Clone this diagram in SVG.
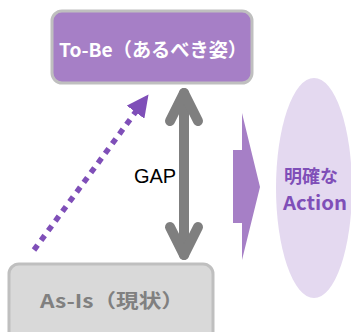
<svg xmlns="http://www.w3.org/2000/svg" width="351" height="332" viewBox="0 0 351 332">
<style>
.lbl{font-family:"Noto Sans CJK JP","Liberation Sans",sans-serif;font-weight:bold;text-anchor:middle}
.gap{font-family:"Liberation Sans","Noto Sans",sans-serif;font-size:20px;text-anchor:middle}
</style>
<defs>
<marker id="tri" viewBox="0 0 10 10" refX="6" refY="5" markerWidth="4" markerHeight="4" orient="auto" markerUnits="strokeWidth">
<path d="M0,0 L10,5 L0,10 z" fill="#7f4fb8"/>
</marker>
</defs>
<rect width="351" height="332" fill="#ffffff"/>
<g id="tobe">
<rect x="52" y="11" width="200" height="72" rx="10" fill="#a67fc6" stroke="#bfbfbf" stroke-width="3"/>
<text class="lbl" x="153" y="57" font-size="19" textLength="188" lengthAdjust="spacingAndGlyphs" fill="#ffffff">To-Be（あるべき姿）</text>
</g>
<g id="asis">
<rect x="9" y="264" width="204" height="80" rx="10" fill="#d9d9d9" stroke="#bfbfbf" stroke-width="3"/>
<text class="lbl" x="112" y="308" font-size="19" textLength="144" lengthAdjust="spacingAndGlyphs" fill="#808080">As-Is（現状）</text>
</g>
<g id="action">
<ellipse cx="314" cy="188" rx="38" ry="110" fill="#e4d9f0"/>
<text class="lbl" x="311" y="183" font-size="18" fill="#7f4fb8">明確な</text>
<text class="lbl" x="315" y="210" font-size="19" textLength="64" lengthAdjust="spacingAndGlyphs" fill="#7f4fb8">Action</text>
</g>
<g id="connectors">
<g stroke="#7f7f7f" stroke-width="10" stroke-linecap="round" stroke-linejoin="round" fill="none">
<line x1="184" y1="93" x2="184" y2="255"/>
<polyline points="170,121 184,93 198,121"/>
<polyline points="170,227 184,255 198,227"/>
</g>
<line x1="34" y1="250" x2="143.3" y2="101.5" stroke="#7f4fb8" stroke-width="5.5" stroke-dasharray="6 6" marker-end="url(#tri)"/>
<polygon points="233,150 242,150 242,113 260,187 242,260 242,223 233,223" fill="#a67fc6"/>
</g>
<text class="gap" x="155" y="183" fill="#000000">GAP</text>
</svg>
